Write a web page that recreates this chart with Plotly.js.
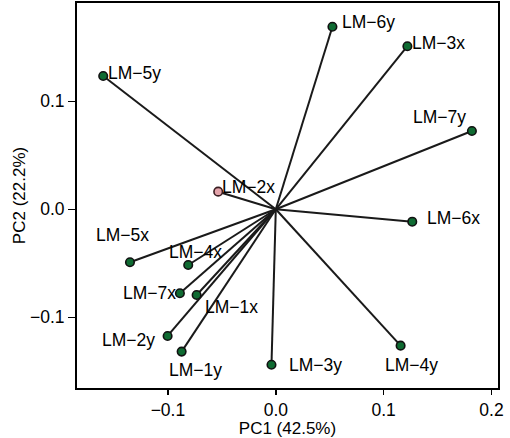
<!DOCTYPE html>
<html>
<head>
<meta charset="utf-8">
<script src="https://cdn.plot.ly/plotly-3.0.1.min.js"></script>
<style>html,body{margin:0;padding:0;background:#fff;}#chart{width:510px;height:438px;}</style>
</head>
<body>
<div id="chart"></div>
<script>
// Landmark loadings on PC1 / PC2
const labels = ["LM-6y","LM-3x","LM-7y","LM-6x","LM-4y","LM-3y","LM-1y","LM-2y","LM-7x","LM-1x","LM-4x","LM-5x","LM-5y","LM-2x"];
const pc1 = [0.0525, 0.122, 0.1818, 0.1265, 0.1157, -0.004, -0.0873, -0.1003, -0.0889, -0.0734, -0.0812, -0.1352, -0.160, -0.0534];
const pc2 = [0.169, 0.151, 0.0725, -0.0115, -0.1263, -0.144, -0.1318, -0.1173, -0.0778, -0.0794, -0.0516, -0.0491, 0.1234, 0.0163];
const highlighted = ["LM-2x"];

// label placement (pixels) relative to the point
const labelAnchor = ["left","left","right","left","center","left","center","right","right","left","center","center","left","left"];
const labelDx = [8, 3, -4, 13, 11, 16, 14, -11, -2, 6, 7.5, -7, 3, 2];
const labelDy = [5, 3, 14, 4, -19, 0, -18, -4, 0, -12, 13, 27, 3, 5];

const lx = [], ly = [];
pc1.forEach((v, i) => { lx.push(0, v, null); ly.push(0, pc2[i], null); });

const FONT = "Liberation Sans, Arial, Helvetica, sans-serif";

const traces = [
  {
    type: "scatter", mode: "lines", x: lx, y: ly,
    line: {color: "#1a1a1a", width: 2}, hoverinfo: "skip", showlegend: false
  },
  {
    type: "scatter", mode: "markers", x: pc1, y: pc2, text: labels,
    marker: {
      size: 8.5,
      color: labels.map(l => highlighted.includes(l) ? "#e3a3aa" : "#0f6b32"),
      line: {color: labels.map(l => highlighted.includes(l) ? "#3a1e22" : "#111111"), width: 1.6}
    },
    showlegend: false
  }
];

const annotations = labels.map((l, i) => ({
  x: pc1[i], y: pc2[i], xref: "x", yref: "y",
  text: l.replace("-", "\u2212"), showarrow: false,
  xanchor: labelAnchor[i], yanchor: "middle",
  xshift: labelDx[i], yshift: labelDy[i],
  font: {family: FONT, size: 17.5, color: "#000"}
}));

const axisCommon = {
  showline: true, mirror: true, linecolor: "#000", linewidth: 2,
  ticks: "outside", tickwidth: 1.5, tickcolor: "#000",
  showgrid: false, zeroline: false,
  tickfont: {family: FONT, size: 17.5, color: "#000"}
};

const layout = {
  width: 510, height: 438,
  margin: {l: 77, r: 12, t: 3, b: 50},
  paper_bgcolor: "#fff", plot_bgcolor: "#fff",
  showlegend: false,
  xaxis: Object.assign({}, axisCommon, {
    ticklen: 5,
    range: [-0.1843, 0.206], tickvals: [-0.1, 0.0, 0.1, 0.2], ticktext: ["\u22120.1","0.0","0.1","0.2"],
    title: {text: "PC1 (42.5%)", font: {family: FONT, size: 17, color: "#000"}, standoff: 3}
  }),
  yaxis: Object.assign({}, axisCommon, {
    ticklen: 7,
    range: [-0.1655, 0.191], tickvals: [-0.1, 0.0, 0.1], ticktext: ["\u22120.1","0.0","0.1"],
    title: {text: "PC2 (22.2%)", font: {family: FONT, size: 17, color: "#000"}, standoff: 0}
  }),
  annotations: annotations
};

Plotly.newPlot("chart", traces, layout, {staticPlot: true, displayModeBar: false});
</script>
</body>
</html>
